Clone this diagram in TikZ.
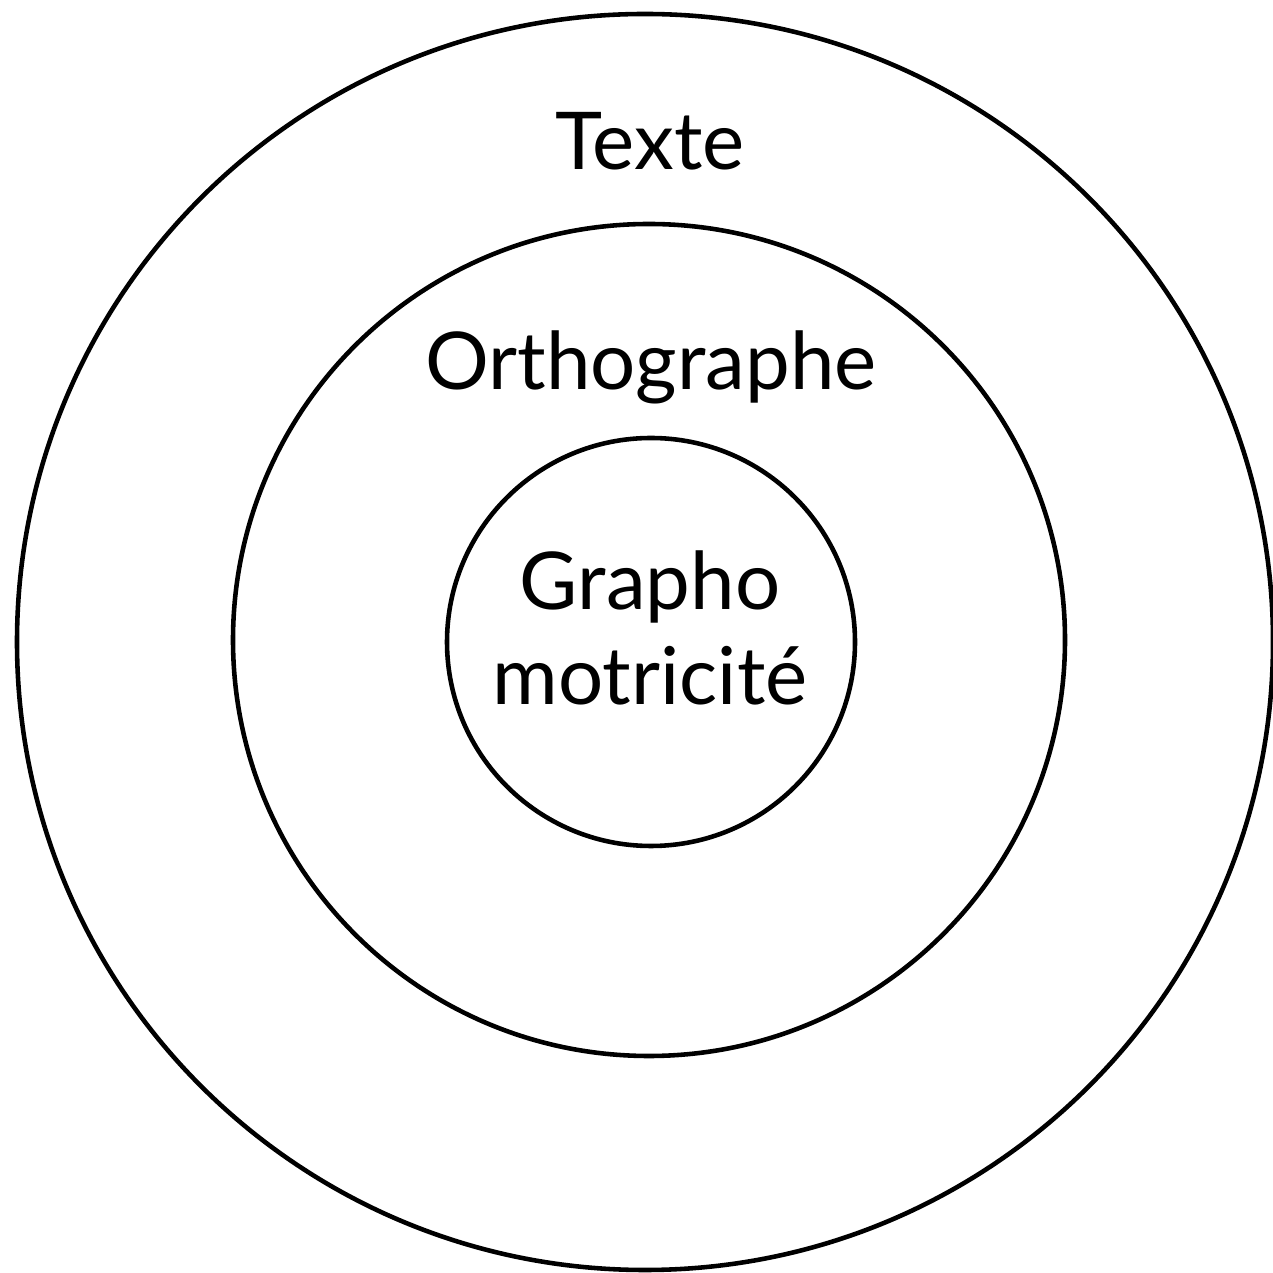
\documentclass[tikz,border=0pt]{standalone}
\usepackage{fontspec}
\setmainfont{Lato}
\begin{document}
\begin{tikzpicture}[ring/.style = {draw, circle, line width=1.3pt, inner sep=0pt}, lbl/.style = {anchor=base, inner sep=0pt, font=\fontsize{22.7}{27}\selectfont}]
		\useasboundingbox (0,0) rectangle (12.73,12.73);
		\node[ring, minimum size=12.56cm] (texte) at (6.45,6.31) {};
		\node[ring, minimum size=8.32cm] (ortho) at (6.49,6.33) {};
		\node[ring, minimum size=4.08cm] (grapho) at (6.51,6.31) {};
		\node[lbl] (t1) at (6.50,11.03) {Texte};
		\node[lbl] (t2) at (6.51,8.83) {Orthographe};
		\node[lbl] (t3) at (6.50,6.63) {Grapho};
		\node[lbl] (t4) at (6.50,5.68) {motricité};
	\end{tikzpicture}
\end{document}
